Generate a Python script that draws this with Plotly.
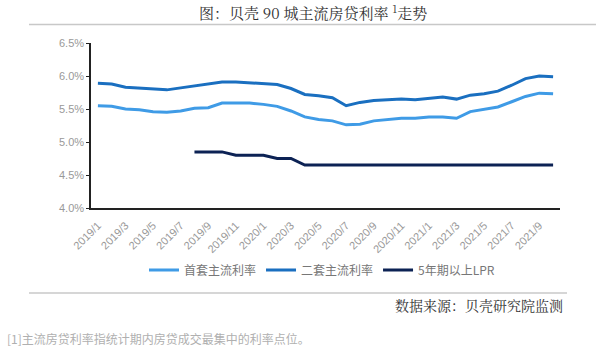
import plotly.graph_objects as go

months = [f"{y}/{m}" for y in (2019, 2020, 2021) for m in range(1, 13)][:34]
tick_labels = [m for i, m in enumerate(months) if i % 2 == 0]

first_home = [5.55, 5.54, 5.50, 5.49, 5.46, 5.45, 5.47, 5.51, 5.52, 5.59, 5.59, 5.59, 5.57, 5.54,
              5.47, 5.38, 5.34, 5.32, 5.26, 5.27, 5.32, 5.34, 5.36, 5.36, 5.38, 5.38, 5.36,
              5.46, 5.50, 5.53, 5.61, 5.69, 5.74, 5.73]
second_home = [5.89, 5.88, 5.83, 5.82, 5.80, 5.79, 5.82, 5.85, 5.87, 5.91, 5.91, 5.90, 5.89, 5.87,
               5.81, 5.72, 5.70, 5.67, 5.55, 5.60, 5.63, 5.64, 5.65, 5.64, 5.66, 5.68, 5.65,
               5.71, 5.73, 5.77, 5.86, 5.96, 6.00, 5.99]
lpr = [None] * 7 + [4.85, 4.85, 4.85, 4.80, 4.80, 4.80, 4.75, 4.75] + [4.65] * 19

series_names = ["首套主流利率", "二套主流利率", "5年期以上LPR"]
colors = ["#3f9be6", "#1a6fc0", "#0c2254"]

fig = go.Figure()
for name, vals, c in zip(series_names, [first_home, second_home, lpr], colors):
    fig.add_trace(go.Scatter(x=months, y=vals, name=name, mode="lines",
                             line=dict(color=c, width=3), connectgaps=False))

PW, PH, L, T = 469, 165, 91, 43
def px(x):
    return (x - L) / PW
def py(y):
    return (T + PH - y) / PH

fig.update_layout(
    width=600, height=351,
    margin=dict(l=91, r=40, t=43, b=143),
    plot_bgcolor="white", paper_bgcolor="white",
    font=dict(family="Noto Sans CJK SC, Noto Sans, sans-serif", color="#888"),
    showlegend=True,
    legend=dict(orientation="h", x=px(322), xanchor="center", y=py(270), yanchor="middle",
                font=dict(size=12, color="#777"), itemwidth=30, tracegroupgap=0),
    xaxis=dict(type="category", range=[-0.5, 33.5], tickmode="array",
               tickvals=tick_labels, ticktext=tick_labels, tickangle=-45,
               showline=True, linecolor="#222", linewidth=1.5, ticks="",
               ticklabelstandoff=5,
               showgrid=False, tickfont=dict(size=11, color="#999", family="Liberation Sans, Arial")),
    yaxis=dict(range=[4.0, 6.5], dtick=0.5, tickformat=".1f", ticksuffix="%",
               showline=True, linecolor="#222", linewidth=1.5, ticks="outside",
               ticklen=3, tickcolor="#222", showgrid=False, zeroline=False,
               tickfont=dict(size=11, color="#999", family="Liberation Sans, Arial")),
    shapes=[
        dict(type="line", xref="paper", yref="paper", x0=px(29), x1=px(596),
             y0=py(24.5), y1=py(24.5), line=dict(color="#c8c8c8", width=1.5)),
        dict(type="line", xref="paper", yref="paper", x0=px(29), x1=px(567),
             y0=py(293), y1=py(293), line=dict(color="#c8c8c8", width=1.5)),
    ],
    annotations=[
        dict(text="图：贝壳 90 城主流房贷利率 <sup>1</sup>走势", xref="paper", yref="paper",
             x=px(313), y=py(12), xanchor="center", yanchor="middle", showarrow=False,
             font=dict(size=15, color="#333", family="Noto Serif CJK SC, Noto Sans CJK SC")),
        dict(text="数据来源：贝壳研究院监测", xref="paper", yref="paper",
             x=px(565), y=py(305), xanchor="right", yanchor="middle", showarrow=False,
             font=dict(size=14, color="#333", family="Noto Serif CJK SC, Noto Sans CJK SC")),
        dict(text="[1]主流房贷利率指统计期内房贷成交最集中的利率点位。", xref="paper", yref="paper",
             x=px(5), y=py(338), xanchor="left", yanchor="middle", showarrow=False,
             font=dict(size=12, color="#b0b0b0")),
    ],
)

fig.write_html("out.html")
